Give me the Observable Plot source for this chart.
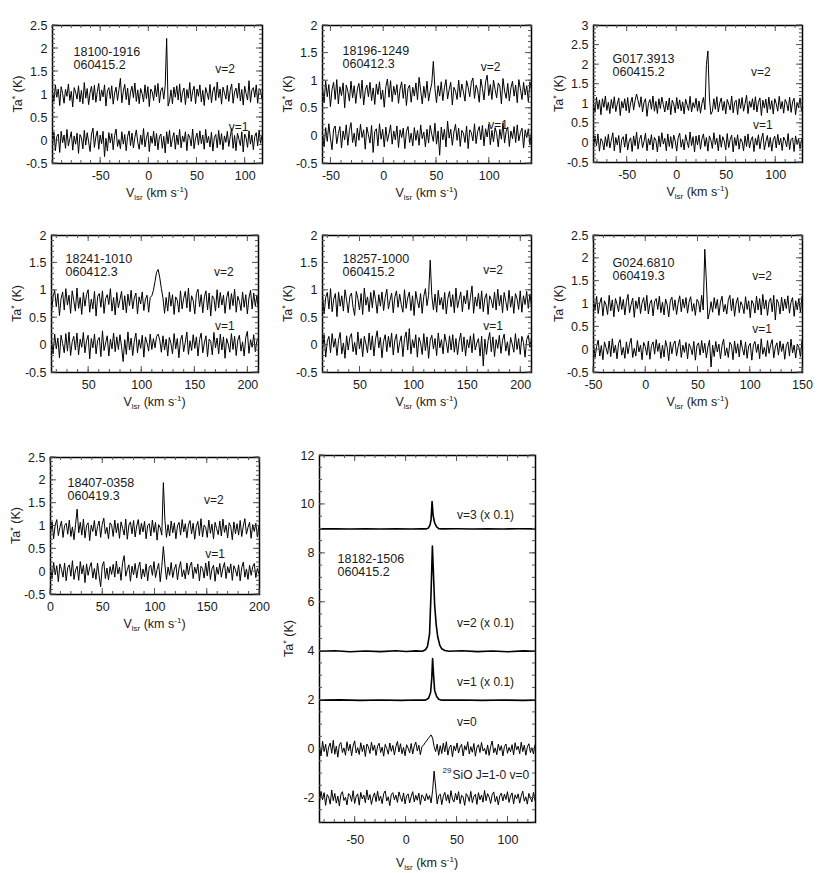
<!DOCTYPE html>
<html><head><meta charset="utf-8">
<script src="https://cdn.jsdelivr.net/npm/d3@7"></script>
<script src="https://cdn.jsdelivr.net/npm/@observablehq/plot@0.6"></script>
<style>
html,body{margin:0;padding:0;background:#fff;overflow:hidden}
#fig{position:relative;width:830px;height:873px;overflow:hidden;background:#fff}
#fig svg{position:absolute;overflow:visible}
</style></head><body><div id="fig"></div>
<script>
// ---- channel grids: [first channel velocity (km/s), channel width (km/s)]
const grid1 = [-100, 1.5];
const grid2 = [-58, 1.5];
const grid3 = [-84, 1.5];
const grid45 = [15, 1.5];
const grid6 = [-50, 1.5];
const grid7 = [0, 1.5];
const grid8 = [-85, 1.5];

// ---- spectra (Ta*, K) before display offset
const p1v2 = [.08,-.15,.21,-.06,.12,-.24,.17,.02,-.19,.11,-.04,.23,-.13,.07,-.27,.15,.05,-.1,.19,-.16,.09,-.2,.26,-.08,.13,-.22,.04,.18,-.12,.2,-.17,.06,.24,-.14,.1,-.05,.21,-.25,.08,.15,-.09,.19,-.21,.03,.16,-.13,.11,.35,-.18,.07,.22,-.11,.14,-.23,.05,.18,-.07,.25,-.15,.1,-.2,.13,.02,-.16,.21,-.09,.17,-.26,.12,.06,-.13,.2,-.05,.24,-.18,.09,.15,-.1,.2,1.22,-.25,-.14,.1,-.2,.16,-.06,.19,-.12,.23,-.17,.05,.14,-.22,.11,-.08,.26,-.15,.07,.18,-.2,.12,-.04,.21,-.16,.09,-.24,.15,.03,-.11,.22,-.18,.08,.17,-.13,.27,-.07,.12,-.21,.16,.04,-.1,.2,-.15,.09,.23,-.19,.06,.14,-.08,.25,-.14,.11,-.23,.18,.02,-.12,.3,-.17,.1,.15,-.06,.21,-.19,.13,.08,-.1];
const p1v1 = [-.1,.18,-.22,.09,.14,-.26,.2,-.05,.12,-.17,.24,-.12,.04,.19,-.21,.1,-.08,.16,-.28,.13,.06,-.18,.22,-.1,.17,-.03,-.24,.14,.27,-.15,.08,.21,-.19,.12,-.07,.2,-.35,.05,-.23,.17,-.05,.15,-.2,.11,.25,-.13,.02,-.18,.19,-.08,.13,-.22,.09,.21,-.11,.16,-.16,.07,.23,-.04,-.19,.12,-.09,.26,-.14,.06,.18,-.24,.1,-.06,.2,-.12,.15,-.2,.08,.14,-.17,.09,-.27,.19,-.07,.22,-.14,.04,.17,-.19,.12,-.09,.24,-.16,.1,-.03,.19,-.22,.14,.07,-.12,.25,-.18,.05,.16,-.1,.21,-.07,.12,-.19,.24,-.05,.09,-.14,.18,-.23,.07,.13,-.16,.22,-.09,.15,-.2,.1,-.04,.2,-.13,.08,.26,-.17,.11,-.22,.16,.03,-.11,.19,-.25,.14,.06,-.15,.21,-.08,.12,-.2,.09,.17,-.12,.23,-.06,.11];
const p2v2 = [.1,-.18,.22,-.07,.15,-.25,.06,.19,-.12,.24,-.2,.11,-.05,.18,-.27,.14,.03,-.15,.21,-.09,.13,-.19,.07,.17,-.1,.23,-.22,.04,.14,-.07,.19,-.14,.09,-.21,.16,-.03,.2,-.12,.05,-.26,.11,.25,-.08,.22,-.16,.12,-.04,.15,-.19,.07,.2,-.1,.16,-.23,.08,.14,-.17,.1,-.06,.18,-.13,.28,.05,-.2,.12,-.09,.21,-.15,.03,.17,.57,.08,-.18,.13,-.06,.2,-.14,.09,.24,-.11,.06,.19,-.22,.1,.03,-.12,.23,-.08,.16,.02,-.15,.22,.1,-.07,.19,.27,-.1,.14,.05,-.17,.25,.08,-.13,.2,.32,-.05,.15,-.12,.23,.06,-.09,.18,.12,-.2,.26,.03,-.1,.17,-.15,.09,.21,-.06,.14,-.18,.24,.07,-.12,.19,-.04,.13,-.16,.2,.05];
const p2v1 = [.07,-.2,.15,-.1,.22,-.04,-.25,.12,.18,-.14,.04,.17,-.22,.09,-.07,.2,-.17,.1,.24,-.12,.05,-.19,.14,-.08,.21,-.03,.11,-.24,.16,.02,-.13,.19,-.3,.08,.13,-.18,.22,-.06,.12,-.2,.16,-.1,.04,.2,-.15,.09,-.07,.18,-.21,.11,-.03,.14,-.23,.08,.17,-.12,.05,-.18,.15,-.08,.1,-.17,.2,-.05,.07,-.2,.12,-.13,.19,.03,-.1,.23,-.15,.09,-.35,.16,-.07,.12,-.2,.27,-.04,.12,-.17,.07,.21,-.08,.14,-.19,.1,.05,-.12,.18,-.23,.11,.06,-.09,.22,-.14,.08,.17,-.07,.19,-.18,.13,-.02,.21,-.16,.1,-.11,.15,.04,-.2,.12,-.06,.24,-.13,.08,.16,-.19,.09,-.05,.17,-.12,.2,-.09,.06,.14,-.22,.11,-.03,.13,-.16,.07];
const p3v2 = [.06,-.17,.22,-.09,.15,-.23,.18,-.04,.25,-.12,.09,-.2,.16,-.07,.23,-.15,.04,.2,-.25,.11,-.06,.18,-.13,.21,-.18,.07,.22,-.11,.14,.3,.13,-.04,.23,-.16,.09,.18,-.27,.06,.16,-.09,.25,-.14,.11,-.2,.18,-.07,.22,.03,-.16,.12,-.11,.2,-.23,.14,.05,-.18,.21,-.08,.15,-.13,.1,-.21,.17,.02,-.12,.24,-.16,.08,-.05,.19,-.14,.12,-.19,.06,.21,-.1,1.05,1.4,.2,-.22,-.14,.18,-.09,.23,-.16,.07,.2,-.12,.11,-.21,.16,.04,-.11,.25,-.18,.09,.14,-.23,.18,-.07,.21,-.14,.05,.27,-.2,.12,-.04,.18,-.11,.23,-.16,.09,.2,-.25,.14,-.06,.17,-.18,.22,-.09,.13,-.21,.18,.05,-.14,.24,-.08,.11,-.19,.16,.07,-.13,.22,-.17,.1,.19,-.23,.08,-.05,.2,-.12];
const p3v1 = [-.14,.18,-.07,.23,-.21,.11,.04,-.18,.16,-.09,.22,-.13,.07,.26,-.2,.14,-.05,.19,-.25,.09,.16,-.11,.23,-.18,.05,.13,-.22,.18,-.07,.28,-.16,.09,.2,-.12,.04,.25,-.2,.11,-.05,.21,-.18,.14,.07,-.23,.18,-.1,.26,-.03,.12,-.2,.23,-.09,.16,-.14,.2,.05,-.21,.14,.25,-.11,.09,-.18,.21,.03,-.12,.28,-.07,.16,-.23,.18,-.05,.2,-.16,.11,.23,-.09,.14,-.21,.18,.07,-.14,.26,-.04,.12,-.2,.21,-.11,.16,.05,-.18,.24,-.12,.09,.2,-.23,.14,-.07,.21,-.16,.11,.04,-.2,.18,-.09,.23,-.13,.07,.16,-.22,.12,-.06,.21,-.15,.1,.25,-.18,.03,.19,-.11,.14,-.21,.08,.17,-.13,.22,-.05,.12,-.19,.15,.06,-.1,.24,-.17,.09,.13,-.22,.18,-.04,.11,-.15,.08];
const p4v2 = [-.18,.1,.22,-.08,.16,-.24,.07,.19,-.14,.25,-.05,.13,-.2,.21,.03,-.16,.26,-.11,.09,-.22,.18,-.07,.14,.23,-.18,.06,-.12,.2,-.25,.11,.16,-.09,.21,-.2,.07,.14,-.04,.25,-.16,.09,-.23,.18,-.1,.05,.2,-.14,.12,-.19,.15,-.06,.22,-.12,.08,.17,-.21,.1,-.03,.19,-.15,.06,.13,-.18,.09,.12,.22,.38,.55,.6,.45,.25,.08,-.2,.09,-.16,.19,-.07,.14,-.22,.1,.04,-.18,.21,-.12,.07,.2,-.1,.26,-.17,.12,.03,-.21,.16,.24,-.08,.14,-.19,.1,.21,-.14,.17,-.25,.12,.07,-.16,.23,-.1,.18,-.05,.13,-.2,.09,.2,-.13,.16,-.06,.24,-.18,.11,.02,-.15,.19,-.09,.14,-.21,.08,.22,-.12,.17,-.07,.13,-.16];
const p4v1 = [.09,-.16,.2,-.07,.13,-.23,.18,.03,-.14,.21,-.11,.24,-.19,.06,.16,-.09,.22,-.18,.11,-.04,.23,-.14,.08,.18,-.25,.12,-.05,.2,-.16,.09,.14,-.21,.26,-.1,.04,.17,-.2,.11,-.07,.22,-.12,.15,-.08,.19,-.03,-.3,.1,-.17,.24,-.09,.13,-.19,.07,.22,-.14,.1,-.06,.18,-.22,.15,.04,-.11,.2,-.08,.12,-.05,.16,.2,.09,-.13,.17,-.09,.11,-.2,.14,.03,-.16,.21,-.07,.12,-.23,.09,.18,-.12,.05,.24,-.17,.08,-.1,.19,-.06,.15,-.2,.1,.22,-.14,.04,.17,-.21,.11,.07,-.18,.23,-.05,.13,-.16,.2,-.09,.15,-.24,.12,.02,-.13,.21,-.08,.16,-.19,.09,.18,-.11,.06,-.2,.14,.25,-.15,.1,-.04,.19,-.12,.08,.13];
const p5v2 = [.14,-.21,.09,.18,-.12,.25,-.17,.06,.16,-.26,.19,-.07,.12,-.16,.23,.04,-.19,.11,.17,-.09,-.24,.2,.07,-.14,.16,-.22,.26,-.05,.1,-.17,.18,-.1,.22,.05,-.2,.14,-.07,.19,-.15,.09,.24,-.12,.04,.17,-.19,.1,.21,-.09,.15,-.04,-.18,.23,-.11,.08,.19,-.15,.12,-.24,.2,.03,-.1,.16,-.2,.11,.25,-.06,.13,.77,.12,-.14,.15,-.18,.22,-.05,.09,-.13,.18,-.21,.07,.2,-.08,.14,-.19,.26,-.1,.05,.19,-.17,.12,-.03,.22,-.13,.09,.3,-.2,.1,-.07,.17,-.12,.21,-.17,.08,.16,-.22,.12,.04,-.1,.19,-.14,.24,-.06,.13,-.19,.18,.02,-.15,.22,-.09,.11,-.2,.16,.07,-.13,.21,-.18,.12,-.04,.2,-.11,.15,-.08];
const p5v1 = [-.11,.19,-.22,.07,.16,-.14,.21,-.04,.12,-.19,.09,.23,-.16,.04,-.24,.17,-.09,.14,.21,-.12,.05,-.18,.24,-.07,.12,-.21,.16,.02,-.14,.22,-.09,.17,-.2,.11,.26,-.05,.14,-.23,.07,.19,-.12,.16,-.04,.22,-.18,.09,.2,-.14,.05,.17,-.21,.12,.24,-.09,.3,-.16,.1,-.05,.19,-.22,.14,.04,-.17,.21,-.1,.15,-.24,.09,.18,-.07,.12,-.19,.22,-.05,.1,-.16,.2,.05,-.14,.17,-.09,.19,-.13,.12,-.18,.07,.22,-.12,.15,-.2,.1,-.05,.17,-.14,.21,-.09,.04,.12,-.2,.16,-.38,.11,-.17,.08,.23,-.12,.15,-.21,.1,-.06,.18,-.15,.09,.2,-.11,.06,-.19,.14,.02,-.13,.21,-.08,.12,-.17,.16,.05,-.22,.1,.18,-.04,.11];
const p6v2 = [.17,-.09,.22,-.16,.07,.19,-.21,.12,.03,-.18,.24,-.1,.14,-.23,.17,.05,-.12,.21,-.07,.15,-.19,.1,.26,-.14,.04,.18,-.24,.12,-.05,.2,-.16,.08,.19,-.1,.24,-.17,.06,.14,-.21,.11,.17,-.07,.22,-.14,.09,-.19,.16,.03,-.23,.12,.2,-.09,.14,-.18,.07,.23,-.12,.16,-.04,.19,-.15,.1,.21,-.11,.06,-.2,.15,.09,-.13,.24,-.08,1.25,.55,-.28,-.14,.1,-.13,.19,-.05,.15,-.2,.09,.22,-.12,.04,-.17,.14,.24,-.1,.17,-.22,.07,.19,-.14,.1,.02,-.16,.21,-.07,.12,-.25,.13,.05,-.15,.22,-.08,.17,-.19,.26,-.06,.14,-.2,.1,.18,-.12,.24,-.3,.15,.07,-.17,.2,-.1,.16,-.05,.23,-.15,.09,.19,-.22,.12,-.08,.17,-.13,.21];
const p6v1 = [.12,-.17,.07,.21,-.14,.09,-.22,.17,.04,-.1,.19,-.15,.24,-.07,.1,-.2,.14,.22,-.12,.05,-.19,.17,-.09,.12,.25,-.17,.03,-.14,.2,-.05,.1,-.22,.16,.07,-.12,.19,-.21,.09,.17,-.1,.22,-.04,.14,-.19,.1,-.16,.2,.05,-.24,.17,-.09,.12,.19,-.14,.07,.22,-.17,.1,-.06,.16,-.2,.13,.04,-.11,.18,-.23,.09,.15,-.12,.2,-.07,.14,-.18,.06,.21,-.38,.1,-.15,.18,-.05,.12,-.2,.09,.23,-.13,.04,-.17,.16,.1,-.22,.19,-.08,.13,-.16,.21,.03,-.12,.17,-.19,.08,.14,-.23,.1,.18,-.06,.12,-.2,.24,-.1,.05,-.15,.2,-.08,.11,.22,-.18,.06,.15,-.12,.19,-.04,.13,-.21,.09,.17,-.14,.23,-.07,.1,-.18,.12,.06,-.15,.2];
const p7v2 = [-.09,.17,-.2,.1,.22,-.13,.05,.19,-.17,.09,.14,-.1,.21,-.15,.06,-.22,.12,.45,-.07,.16,-.12,.23,-.18,.09,.15,-.24,.1,-.04,.2,-.14,.07,.19,-.17,.12,.25,-.09,.05,-.2,.15,.1,-.15,.21,-.07,.14,-.19,.17,.03,-.12,.23,-.21,.1,.17,-.09,.2,-.16,.08,.22,-.11,.14,-.05,.18,-.2,.09,.13,-.14,.21,-.06,.16,-.23,.11,.04,-.12,1.03,.2,-.17,.11,-.14,.19,-.07,.15,-.2,.08,.16,-.12,.22,-.05,.13,-.18,.1,.2,-.09,.14,-.21,.07,.18,-.13,.24,-.16,.1,.05,-.17,.21,-.08,.12,-.2,.16,.02,-.11,.19,-.14,.23,-.06,.1,-.18,.15,.07,-.22,.17,-.09,.13,-.12,.2,-.15,.08,.24,-.1,.05,.16,-.19,.11,-.04,.14,-.16,.09];
const p7v1 = [.1,-.15,.2,-.07,.13,-.22,.17,.05,-.12,.19,-.2,.09,.15,-.1,.24,-.17,.04,.12,-.19,.22,-.05,.14,-.24,.17,-.08,.1,.2,-.14,.07,-.17,.19,-.09,-.33,.12,.22,-.15,.08,-.18,.11,-.06,.16,-.12,.23,-.05,.1,-.19,.2,.35,-.1,.04,.15,-.21,.12,-.07,.18,-.14,.09,.21,-.16,.06,-.11,.17,-.2,.1,.14,-.08,.22,-.13,.05,.18,-.22,.11,.55,.15,-.17,.1,-.08,.2,-.13,.06,.16,-.18,.08,.22,-.11,.04,-.16,.19,-.07,.13,.21,-.15,.1,-.04,.17,-.2,.12,.07,-.14,.19,-.09,.23,-.17,.06,.14,-.21,.1,-.06,.18,-.12,.08,.2,-.15,.11,-.03,.17,-.19,.13,.04,-.1,.15,-.2,.09,.21,-.12,.06,-.17,.14,-.08,.11,.18,-.13,.07,-.05];
const p8v0 = [.15,-.28,.32,-.1,.2,-.3,.08,.25,-.17,.36,-.21,.12,-.33,.18,.27,-.14,.05,-.25,.3,-.08,.2,-.27,.13,.34,-.16,.06,-.22,.26,-.1,.16,-.3,.21,.09,-.18,.28,-.06,.17,-.26,.12,.24,-.14,.08,-.29,.19,.03,-.21,.25,-.09,.15,-.24,.1,.31,-.12,.22,-.19,.07,-.27,.18,.04,-.15,.23,-.2,.12,.29,-.08,.16,-.23,.1,.15,.25,.33,.42,.5,.58,.45,.1,-.1,.2,-.25,.14,-.18,.24,-.11,.3,-.24,.06,.17,-.31,.13,-.07,.25,-.16,.09,.2,-.28,.14,-.04,.3,-.2,.1,-.13,.23,-.29,.07,.18,-.14,.27,-.08,.03,-.22,.17,-.26,.11,.33,-.15,.05,-.23,.2,-.06,.14,-.28,.1,.21,-.17,.07,-.11,.18,-.24,.26,-.03,.12,-.19,.28,-.1,.16,-.25,.09,.22,-.14,.06,-.2,.17];
const p8sio = [-.17,.27,-.07,.22,-.3,.14,.04,-.25,.33,-.11,.19,-.21,.08,-.32,.15,.26,-.1,.03,-.28,.18,.11,-.14,.3,-.22,.07,.17,-.29,.23,-.04,.12,-.19,.33,-.08,.14,-.26,.04,.21,-.15,.28,-.11,.08,-.23,.18,.29,-.12,.05,-.31,.15,.22,-.07,.12,-.18,.25,.03,-.14,.21,-.24,.09,.17,-.2,.07,.26,-.16,.11,-.09,.2,-.27,.13,.04,-.12,.18,-.06,.1,-.2,.3,1.1,.45,-.24,.1,.16,-.27,.07,.23,-.11,.14,-.21,.3,-.04,-.16,.19,-.08,.26,-.23,.11,.04,-.3,.18,.08,-.14,.27,-.19,.06,.15,-.26,.22,-.07,.12,-.17,.31,-.11,.18,.03,-.22,.14,.25,-.15,.07,-.28,.1,.2,-.12,.16,-.06,.26,-.18,.08,.21,-.24,.13,-.03,.17,-.21,.09,.28,-.13,.05,-.25,.19,.02,-.16,.23,-.1];
// strong masers, [velocity, Ta*] pairs (plotted x 0.1)
const p8v3 = [[-85,0],[-70,.05],[-55,-.04],[-40,.03],[-25,-.05],[-10,.04],[5,-.03],[15,.02],[20,0],[22,.4],[23.5,1.6],[24.5,3.8],[25.5,11.2],[26.5,5.5],[28,2.5],[30,.8],[32,.1],[35,0],[50,.04],[65,-.05],[80,.03],[95,-.04],[110,.05],[127,0]];
const p8v2 = [[-85,0],[-70,.2],[-55,-.2],[-40,.1],[-25,-.15],[-10,.2],[0,-.1],[10,.15],[16,0],[19,.6],[21,2],[23,7],[24.5,24],[25.8,43],[27,30],[28,19],[29.5,11],[31,6],[33,2.5],[35,1],[38,.3],[42,0],[55,.2],[70,-.15],[85,.1],[100,-.2],[115,.15],[127,0]];
const p8v1 = [[-85,0],[-65,.1],[-45,-.1],[-25,.08],[-5,-.08],[10,.05],[19,0],[22,.8],[24,3],[25.2,9],[26,17],[27,10],[28,4],[30,1.5],[32,.4],[35,0],[55,.08],[75,-.1],[95,.06],[115,-.08],[127,0]];

// ---- tick values
const yT20 = [-0.5, 0, 0.5, 1, 1.5, 2];
const yT25 = [-0.5, 0, 0.5, 1, 1.5, 2, 2.5];
const yT30 = [-0.5, 0, 0.5, 1, 1.5, 2, 2.5, 3];
const yT8 = [-2, 0, 2, 4, 6, 8, 10, 12];
const xTa = [-50, 0, 50, 100];
const xTb = [50, 100, 150, 200];
const xTc = [-50, 0, 50, 100, 150];
const xTd = [0, 50, 100, 150, 200];

// ---- source names / dates
const sources = ["18100-1916","18196-1249","G017.3913","18241-1010","18257-1000","G024.6810","18407-0358","18182-1506"];
const dates = ["060415.2","060412.3","060415.2","060412.3","060415.2","060419.3","060419.3","060415.2"];

// ---- layout (page px) and per-panel options
const panels = [
  {frame:[52,25,262,163], xd:[-100,118], yd:[-0.5,2.5], xt:xTa, yt:yT25, ym:0.1, td:[21,21],
   traces:[{v:p1v2,g:grid1,off:1},{v:p1v1,g:grid1,off:0}],
   labels:[{text:"v=2",x:69,y:1.55},{text:"v=1",x:83,y:0.29}]},
  {frame:[322,25,531,163], xd:[-58,140], yd:[-0.5,2], xt:xTa, yt:yT20, ym:0.1, td:[20,20],
   traces:[{v:p2v2,g:grid2,off:0.78},{v:p2v1,g:grid2,off:0}],
   labels:[{text:"v=2",x:92,y:1.25},{text:"v=1",x:99,y:0.2}]},
  {frame:[593,25,802,162], xd:[-84,127], yd:[-0.5,3], xt:xTa, yt:yT30, ym:0.1, td:[19,28],
   traces:[{v:p3v2,g:grid3,off:0.95},{v:p3v1,g:grid3,off:0}],
   labels:[{text:"v=2",x:75,y:1.81},{text:"v=1",x:77,y:0.45}]},
  {frame:[51,235,258,372], xd:[15,210], yd:[-0.5,2], xt:xTb, yt:yT20, ym:0.1, td:[14,18],
   traces:[{v:p4v2,g:grid45,off:0.78},{v:p4v1,g:grid45,off:0}],
   labels:[{text:"v=2",x:168,y:1.33},{text:"v=1",x:169,y:0.34}]},
  {frame:[322,235,531,372], xd:[15,210], yd:[-0.5,2], xt:xTb, yt:yT20, ym:0.1, td:[20,18],
   traces:[{v:p5v2,g:grid45,off:0.78},{v:p5v1,g:grid45,off:0}],
   labels:[{text:"v=2",x:165,y:1.36},{text:"v=1",x:165,y:0.34}]},
  {frame:[593,235,802,372], xd:[-50,150], yd:[-0.5,2.5], xt:xTc, yt:yT25, ym:0.1, td:[19,22],
   traces:[{v:p6v2,g:grid6,off:0.95},{v:p6v1,g:grid6,off:0}],
   labels:[{text:"v=2",x:102,y:1.62},{text:"v=1",x:102,y:0.45}]},
  {frame:[50,457,259,594], xd:[0,200], yd:[-0.5,2.5], xt:xTd, yt:yT25, ym:0.1, td:[17,20],
   traces:[{v:p7v2,g:grid7,off:0.92},{v:p7v1,g:grid7,off:0}],
   labels:[{text:"v=2",x:147,y:1.56},{text:"v=1",x:148,y:0.39}]},
  {frame:[319,455,535,822], xd:[-85,127], yd:[-3,12], xt:xTa, yt:yT8, ym:0.5, td:[18,98], big:true,
   traces:[{p:p8v3,off:9,sc:0.1,w:1.6},{p:p8v2,off:4,sc:0.1,w:1.6},{p:p8v1,off:2,sc:0.1,w:1.6},
           {v:p8v0,g:grid8,off:0},{v:p8sio,g:grid8,off:-2}],
   labels:[{text:"v=3 (x 0.1)",x:50,y:9.55},{text:"v=2 (x 0.1)",x:50,y:5.13},{text:"v=1 (x 0.1)",x:50,y:2.72},
           {text:"v=0",x:50,y:1.09},{text:"SiO J=1-0 v=0",sup:"29",x:45.5,y:-1.08}]}
];

const FONT = '"Liberation Sans", Arial, Helvetica, sans-serif';
const ML = 50, MR = 10, MT = 10, MB = 56;
const fig = document.getElementById("fig");

panels.forEach((p, i) => {
  const [fx0, fy0, fx1, fy1] = p.frame;
  const fw = fx1 - fx0, fh = fy1 - fy0;
  const lineMarks = p.traces.map(tr => {
    const sc = tr.sc ?? 1;
    const rows = tr.p
      ? tr.p.map(([v, t]) => ({v, t: t * sc + tr.off}))
      : tr.v.map((t, k) => ({v: tr.g[0] + k * tr.g[1], t: t * sc + tr.off}));
    return Plot.line(rows, {x: "v", y: "t", stroke: "#000", strokeWidth: tr.w ?? 1, clip: true});
  });
  const xMinor = d3.range(Math.ceil(p.xd[0] / 10) * 10, p.xd[1] + 0.001, 10);
  const yMinor = d3.range(Math.ceil(p.yd[0] / p.ym - 1e-9) * p.ym, p.yd[1] + 1e-6, p.ym);
  const fmt = d => String(d);
  const sups = p.labels.filter(d => d.sup);

  const chart = Plot.plot({
    width: fw + ML + MR, height: fh + MT + MB,
    marginLeft: ML, marginRight: MR, marginTop: MT, marginBottom: MB,
    style: {fontFamily: FONT, fontSize: "12.5px", color: "#1a1a1a", background: "transparent", overflow: "visible"},
    x: {domain: p.xd},
    y: {domain: p.yd},
    marks: [
      ...lineMarks,
      Plot.axisX(p.xt, {anchor: "bottom", tickSize: 0, tickPadding: p.big ? 13 : 8, tickFormat: fmt, label: null, fill: "#1a1a1a"}),
      Plot.axisY(p.yt, {anchor: "left", tickSize: 0, tickPadding: 5, tickFormat: fmt, label: null, fill: "#1a1a1a"}),
      Plot.frame({stroke: "#000", strokeWidth: 1.5}),
      Plot.text(p.labels, {x: "x", y: "y", text: "text", textAnchor: "start", fontSize: 12, fill: "#1a1a1a"}),
      Plot.text(sups, {x: "x", y: "y", text: "sup", textAnchor: "end", dx: -1, dy: -5, fontSize: 8, fill: "#1a1a1a"}),
      Plot.text([sources[i] + "\n" + dates[i]], {frameAnchor: "top-left", dx: p.td[0], dy: p.td[1],
        lineAnchor: "top", textAnchor: "start", lineHeight: 1.05, fontSize: 12.5, fill: "#1a1a1a"})
    ]
  });

  const svg = d3.select(chart);
  // inward ticks on all four sides, positioned with the plot's own scales
  const sx = chart.scale("x"), sy = chart.scale("y");
  const tg = svg.append("g").attr("stroke", "#555").attr("stroke-width", 1);
  const top = MT, bot = MT + fh, left = ML, right = ML + fw;
  const addX = (vals, len) => vals.forEach(v => {
    const x = sx.apply(v);
    tg.append("line").attr("x1", x).attr("x2", x).attr("y1", bot).attr("y2", bot - len);
    tg.append("line").attr("x1", x).attr("x2", x).attr("y1", top).attr("y2", top + len);
  });
  const addY = (vals, len) => vals.forEach(v => {
    const y = sy.apply(v);
    tg.append("line").attr("y1", y).attr("y2", y).attr("x1", left).attr("x2", left + len);
    tg.append("line").attr("y1", y).attr("y2", y).attr("x1", right).attr("x2", right - len);
  });
  addX(xMinor, 3); addX(p.xt, 6); addY(yMinor, 3); addY(p.yt, 6);

  // axis titles with sub/superscripts
  const xt = svg.append("text")
    .attr("x", ML + fw / 2).attr("y", MT + fh + (p.big ? 45 : 34))
    .attr("text-anchor", "middle").attr("font-size", 12.5).attr("fill", "#1a1a1a").attr("font-family", FONT);
  xt.append("tspan").text("V");
  xt.append("tspan").attr("font-size", 8).attr("dy", 3).text("lsr");
  xt.append("tspan").attr("dy", -3).text(" (km s");
  xt.append("tspan").attr("font-size", 8).attr("dy", -5).text("-1");
  xt.append("tspan").attr("dy", 5).text(")");

  const yt = svg.append("text")
    .attr("transform", `translate(${ML - (p.big ? 26 : 30)},${MT + fh / 2}) rotate(-90)`)
    .attr("text-anchor", "middle").attr("font-size", 12.5).attr("fill", "#1a1a1a").attr("font-family", FONT);
  yt.append("tspan").text("Ta");
  yt.append("tspan").attr("font-size", 9).attr("dy", -4).text("*");
  yt.append("tspan").attr("dy", 4).text(" (K)");

  chart.style.left = (fx0 - ML) + "px";
  chart.style.top = (fy0 - MT) + "px";
  fig.appendChild(chart);
});
</script></body></html>
